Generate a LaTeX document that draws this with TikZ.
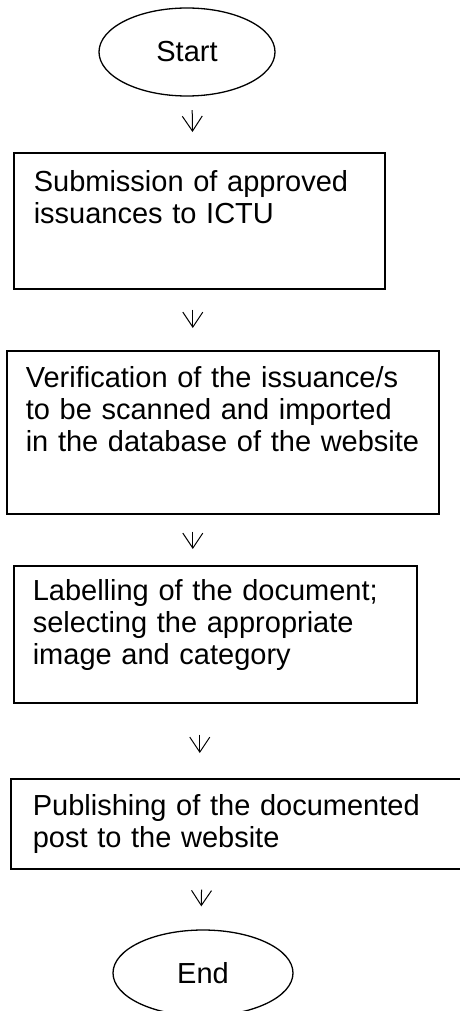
\documentclass[tikz,border=0pt]{standalone}
\usepackage{fontspec}
\setmainfont{Liberation Sans}
\usepackage{tikz}
\usetikzlibrary{shapes.geometric, arrows.meta}
\tikzstyle{startstop} = [ellipse, draw=black, line width=1.3pt, inner sep=0pt, minimum height=88pt]
\tikzstyle{process} = [rectangle, draw=black, line width=1.6pt, anchor=north west, align=left, inner ysep=0pt]
\tikzstyle{arrow} = [line width=1pt, -{Straight Barb[length=15pt,width=20pt]}]

\begin{document}
\begin{tikzpicture}[x=1pt, y=-1pt, font=\fontsize{29}{32}\selectfont]
\useasboundingbox (0,0) rectangle (459,1011);
\node(start) [startstop, minimum width=176pt] at (187,52) {Start};
\node(submit) [process, text width=331pt, inner xsep=20pt, text height=39pt, text depth=97pt] at (13,152) {Submission of approved\\issuances to ICTU};
\node(verify) [process, text width=394pt, inner xsep=19pt, text height=37pt, text depth=126pt] at (6,350) {Verification of the issuance/s\\to be scanned and imported\\in the database of the website};
\node(label) [process, text width=365pt, inner xsep=19pt, text height=35pt, text depth=102pt] at (13,565) {Labelling of the document;\\selecting the appropriate\\image and category};
\node(publish) [process, text width=426pt, inner xsep=22pt, text height=37pt, text depth=53pt] at (10,778) {Publishing of the documented\\post to the website};
\node(end) [startstop, minimum width=180pt, minimum height=86pt] at (203,973) {End};

\draw[arrow, shorten <=13.5pt, shorten >=20pt] ([xshift=5pt]start.south) -- ([xshift=-6.5pt]submit.north);
\draw[arrow, shorten <=20pt, shorten >=22pt] ([xshift=-6.5pt]submit.south) -- ([xshift=-30pt]verify.north);
\draw[arrow, shorten <=17pt, shorten >=16pt] ([xshift=-30pt]verify.south) -- ([xshift=-22.5pt]label.north);
\draw[arrow, shorten <=31pt, shorten >=25pt] ([xshift=-15.5pt]label.south) -- ([xshift=-46pt]publish.north);
\draw[arrow, shorten <=20pt, shorten >=23pt] ([xshift=-44pt]publish.south) -- ([xshift=-2pt]end.north);
\end{tikzpicture}
\end{document}
